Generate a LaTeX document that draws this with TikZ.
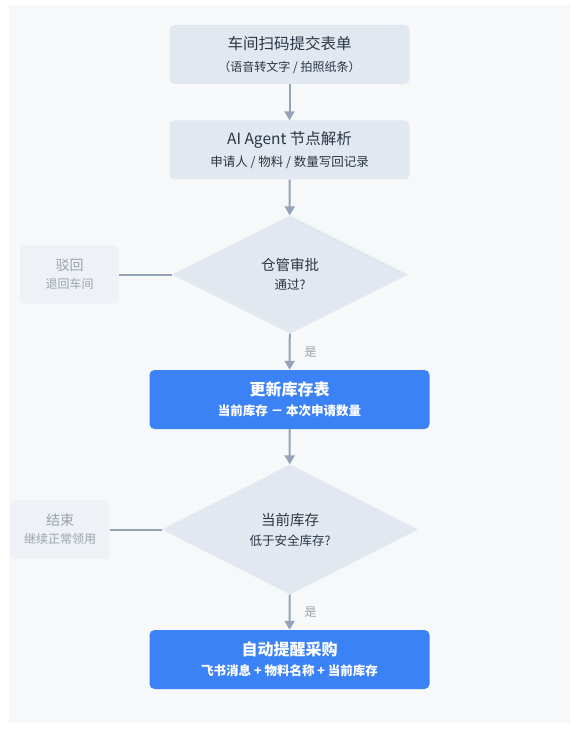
\documentclass[tikz,border=0pt]{standalone}
\usepackage{fontspec}
\setmainfont{Noto Sans CJK SC}
\usepackage{tikz}
\usetikzlibrary{shapes.geometric, positioning, arrows.meta}

\definecolor{panelbg}{HTML}{F7F8FA}
\definecolor{stepfill}{HTML}{E2E8F0}
\definecolor{inktext}{HTML}{2B3544}
\definecolor{keyblue}{HTML}{3B82F6}
\definecolor{flowgray}{HTML}{94A3B8}
\definecolor{sidefill}{HTML}{EEF1F5}
\definecolor{sidetext}{HTML}{9AA3AE}

\begin{document}
\begin{tikzpicture}[
    x=1pt, y=-1pt,
    procbox/.style={rectangle, rounded corners=5pt, fill=stepfill, text=inktext,
        minimum width=240pt, minimum height=59pt, align=center, inner sep=0pt},
    keybox/.style={rectangle, rounded corners=5pt, fill=keyblue, text=white,
        minimum width=280pt, minimum height=59pt, align=center, inner sep=0pt},
    decision/.style={diamond, fill=stepfill, text=inktext, aspect=2,
        inner sep=0pt, align=center},
    sidebox/.style={rectangle, rounded corners=5pt, fill=sidefill, text=sidetext,
        minimum width=100pt, minimum height=59pt, align=center, inner sep=0pt},
    flow/.style={draw=flowgray, line width=2pt, -{Triangle[width=10pt,length=9pt]}},
    yeslabel/.style={right, text=sidetext, font=\fontsize{12}{14}\selectfont, inner sep=0pt}
]

% page and panel
\useasboundingbox (0,0) rectangle (577,730);
\fill[white] (0,0) rectangle (577,730);
\fill[panelbg] (9,5) rectangle (570,723);

% main column
\node[procbox] (scan) at (289.5,54.5)
    {{\fontsize{15.5}{18}\selectfont 车间扫码提交表单}\\[10pt]
     {\fontsize{12}{14}\selectfont （语音转文字 / 拍照纸条）}};
\node[procbox] (agent) at (289.5,150)
    {{\fontsize{15.5}{18}\selectfont AI Agent 节点解析}\\[7pt]
     {\fontsize{12.5}{14}\selectfont 申请人 / 物料 / 数量写回记录}};
\node[decision, minimum width=236pt, minimum height=118pt] (check) at (290,274.5)
    {{\fontsize{14.5}{17}\selectfont 仓管审批}\\[7pt]
     {\fontsize{12.5}{14}\selectfont 通过?}};
\node[keybox] (update) at (289.5,399.5)
    {{\fontsize{16}{19}\selectfont\bfseries 更新库存表}\\[7pt]
     {\fontsize{12.5}{14}\selectfont\bfseries 当前库存 － 本次申请数量}};
\node[decision, minimum width=256pt, minimum height=130pt] (low) at (290,529.5)
    {{\fontsize{14.5}{17}\selectfont 当前库存}\\[8pt]
     {\fontsize{12.5}{14}\selectfont 低于安全库存?}};
\node[keybox] (alert) at (289.5,659.5)
    {{\fontsize{16}{19}\selectfont\bfseries 自动提醒采购}\\[7pt]
     {\fontsize{12.5}{14}\selectfont\bfseries 飞书消息 + 物料名称 + 当前库存}};

% side exits
\node[sidebox, minimum width=99pt] (reject) at (69.5,274.5)
    {{\fontsize{14}{17}\selectfont 驳回}\\[6pt]
     {\fontsize{12}{14}\selectfont 退回车间}};
\node[sidebox] (done) at (60,529.5)
    {{\fontsize{14}{17}\selectfont 结束}\\[6pt]
     {\fontsize{12}{14}\selectfont 继续正常领用}};

% connectors
\draw[flow] (scan) -- (agent);
\draw[flow] (agent) -- (check);
\draw[flow] (check) -- node[yeslabel, xshift=14pt] (yes1) {是} (update);
\draw[flow] (update) -- (low);
\draw[flow] (low) -- node[yeslabel, xshift=14pt] (yes2) {是} (alert);
\draw[flowgray, line width=2pt] (check.west) -- (reject.east);
\draw[flowgray, line width=2pt] (low.west) -- (done.east);

\end{tikzpicture}
\end{document}
